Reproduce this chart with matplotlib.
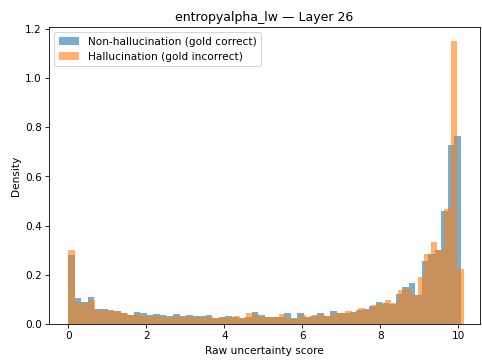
import numpy as np
import matplotlib
matplotlib.use("Agg")
import matplotlib.pyplot as plt

# histogram densities, 60 bins per group
n_bins = 60
correct_range = (0.0, 10.07)
incorrect_range = (0.0, 10.14)

correct_density = [
    0.28, 0.105, 0.088, 0.11, 0.06, 0.062, 0.055, 0.053, 0.046, 0.036,
    0.048, 0.043, 0.036, 0.040, 0.038, 0.033, 0.040, 0.034, 0.036, 0.032,
    0.031, 0.037, 0.025, 0.027, 0.033, 0.030, 0.024, 0.030, 0.048, 0.036,
    0.028, 0.028, 0.030, 0.043, 0.024, 0.043, 0.030, 0.034, 0.046, 0.034,
    0.052, 0.043, 0.046, 0.050, 0.058, 0.060, 0.072, 0.090, 0.085, 0.083,
    0.124, 0.15, 0.167, 0.117, 0.258, 0.285, 0.30, 0.46, 0.727, 0.764,
]
incorrect_density = [
    0.30, 0.09, 0.085, 0.098, 0.056, 0.058, 0.052, 0.052, 0.045, 0.036,
    0.042, 0.034, 0.032, 0.034, 0.030, 0.030, 0.034, 0.030, 0.030, 0.029,
    0.030, 0.030, 0.023, 0.027, 0.030, 0.032, 0.023, 0.043, 0.040, 0.030,
    0.028, 0.028, 0.040, 0.025, 0.022, 0.035, 0.028, 0.036, 0.038, 0.033,
    0.045, 0.043, 0.052, 0.047, 0.063, 0.058, 0.077, 0.080, 0.097, 0.085,
    0.137, 0.147, 0.117, 0.19, 0.285, 0.333, 0.30, 0.467, 1.15, 0.225,
]

labels = ["Non-hallucination (gold correct)", "Hallucination (gold incorrect)"]

fig, ax = plt.subplots(figsize=(6.4, 4.807), dpi=75.3125)
fig.subplots_adjust(left=0.102, right=0.996, bottom=0.105, top=0.925)

for rng, dens, lab in [(correct_range, correct_density, labels[0]),
                       (incorrect_range, incorrect_density, labels[1])]:
    edges = np.linspace(rng[0], rng[1], n_bins + 1)
    centers = (edges[:-1] + edges[1:]) / 2
    ax.hist(centers, bins=edges, weights=dens, alpha=0.6, label=lab)

ax.set_xlim(-0.49, 10.56)
ax.set_title("entropyalpha_lw \u2014 Layer 26")
ax.set_xlabel("Raw uncertainty score")
ax.set_ylabel("Density")
ax.legend(loc="upper left")

fig.savefig("out.png")
